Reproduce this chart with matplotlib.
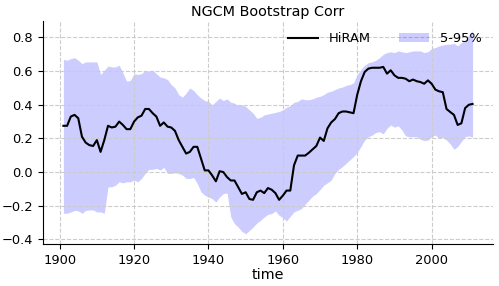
import numpy as np
import matplotlib
matplotlib.use('Agg')
import matplotlib.pyplot as plt

# %% Data
years = np.arange(1901, 2012)

hiram = [
    0.275, 0.275, 0.33, 0.34, 0.32, 0.21, 0.175, 0.16, 0.155, 0.19,
    0.12, 0.19, 0.275, 0.265, 0.27, 0.30, 0.28, 0.255, 0.255, 0.30,
    0.325, 0.335, 0.375, 0.375, 0.35, 0.33, 0.275, 0.295, 0.27, 0.265,
    0.245, 0.19, 0.15, 0.11, 0.12, 0.15, 0.15, 0.08, 0.01, 0.01,
    -0.02, -0.055, 0.005, 0.0, -0.03, -0.05, -0.05, -0.09, -0.13, -0.12,
    -0.16, -0.165, -0.12, -0.11, -0.125, -0.095, -0.105, -0.125, -0.165, -0.14,
    -0.11, -0.11, 0.04, 0.098, 0.098, 0.098, 0.115, 0.135, 0.155, 0.205,
    0.185, 0.26, 0.295, 0.315, 0.35, 0.36, 0.36, 0.355, 0.35, 0.46,
    0.54, 0.595, 0.615, 0.62, 0.62, 0.62, 0.625, 0.585, 0.605, 0.575,
    0.56, 0.56, 0.555, 0.54, 0.55, 0.54, 0.535, 0.525, 0.545, 0.525,
    0.49, 0.48, 0.475, 0.375, 0.357, 0.34, 0.28, 0.29, 0.38, 0.40,
    0.405,
]

upper = [
    0.67, 0.665, 0.675, 0.68, 0.665, 0.645, 0.655, 0.655, 0.655, 0.655,
    0.58, 0.605, 0.63, 0.625, 0.625, 0.635, 0.59, 0.54, 0.545, 0.585,
    0.58, 0.585, 0.605, 0.60, 0.605, 0.585, 0.565, 0.56, 0.55, 0.52,
    0.50, 0.46, 0.445, 0.47, 0.50, 0.485, 0.46, 0.44, 0.425, 0.42,
    0.40, 0.42, 0.44, 0.425, 0.435, 0.415, 0.41, 0.395, 0.40, 0.39,
    0.37, 0.35, 0.32, 0.325, 0.34, 0.345, 0.35, 0.355, 0.36, 0.37,
    0.385, 0.395, 0.415, 0.42, 0.435, 0.43, 0.43, 0.435, 0.445, 0.45,
    0.46, 0.475, 0.48, 0.49, 0.50, 0.505, 0.515, 0.52, 0.53, 0.58,
    0.61, 0.635, 0.65, 0.655, 0.665, 0.68, 0.70, 0.71, 0.715, 0.71,
    0.72, 0.715, 0.71, 0.715, 0.72, 0.72, 0.72, 0.71, 0.715, 0.735,
    0.74, 0.75, 0.755, 0.76, 0.76, 0.765, 0.75, 0.77, 0.785, 0.815,
    0.84,
]

lower = [
    -0.245, -0.245, -0.237, -0.228, -0.23, -0.245, -0.228, -0.225, -0.225, -0.237,
    -0.237, -0.245, -0.088, -0.088, -0.078, -0.058, -0.064, -0.058, -0.058, -0.048,
    -0.058, -0.038, -0.008, 0.016, 0.016, 0.022, 0.012, 0.028, -0.008, -0.008,
    -0.004, -0.008, -0.018, -0.038, -0.038, -0.032, -0.068, -0.118, -0.138, -0.148,
    -0.158, -0.178, -0.148, -0.128, -0.124, -0.267, -0.307, -0.327, -0.353, -0.367,
    -0.347, -0.327, -0.303, -0.287, -0.267, -0.251, -0.247, -0.231, -0.257, -0.271,
    -0.291, -0.263, -0.237, -0.227, -0.217, -0.191, -0.167, -0.143, -0.128, -0.104,
    -0.078, -0.064, -0.048, -0.008, 0.016, 0.032, 0.052, 0.072, 0.092, 0.116,
    0.152, 0.19, 0.21, 0.22, 0.235, 0.24, 0.227, 0.26, 0.28, 0.267,
    0.275, 0.25, 0.215, 0.21, 0.21, 0.21, 0.195, 0.187, 0.19, 0.21,
    0.22, 0.2, 0.205, 0.19, 0.167, 0.135, 0.152, 0.182, 0.21, 0.215,
    0.207,
]

# %% Plot
fig = plt.figure(figsize=(4.99, 2.86), dpi=100)
ax = fig.add_axes([0.086, 0.147, 0.902, 0.781])

ax.plot(years, hiram, color='k', lw=1.5, label='HiRAM')
ax.fill_between(years, lower, upper, color='b', alpha=0.2, lw=0, label='5-95%')

ax.set_title('NGCM Bootstrap Corr', fontsize=10.4, pad=3)
ax.set_xlabel('time', fontsize=10.4, labelpad=1)
ax.tick_params(labelsize=9.4)
ax.grid(True, ls='--', color='0.8', lw=0.8)
ax.spines['top'].set_visible(False)
ax.spines['right'].set_visible(False)
ax.legend(loc='upper right', ncol=2, frameon=False, fontsize=9.4,
          handlelength=2.3, columnspacing=2.2)

fig.savefig('out.png', dpi=100)
